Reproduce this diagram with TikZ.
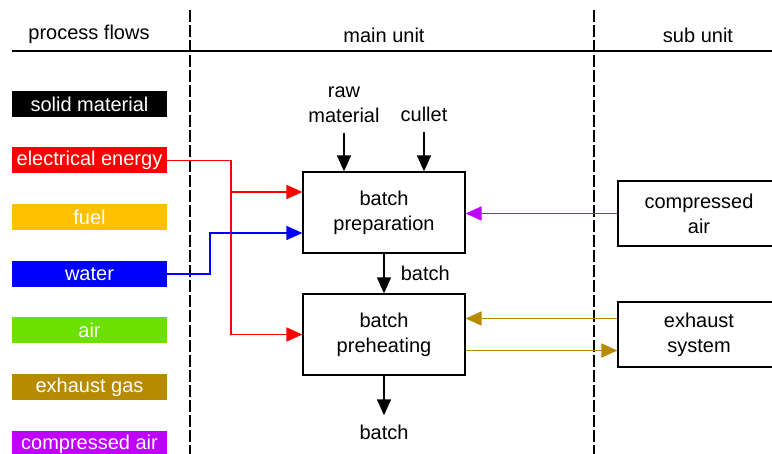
\documentclass[tikz,border=0pt]{standalone}
\usepackage{fontspec}
\setmainfont{Liberation Sans}
\usetikzlibrary{positioning,arrows.meta}
\definecolor{elecred}{RGB}{255,0,0}
\definecolor{fuelorange}{RGB}{255,192,0}
\definecolor{waterblue}{RGB}{0,0,255}
\definecolor{airgreen}{RGB}{108,224,0}
\definecolor{exhaustbrown}{RGB}{184,138,0}
\definecolor{cairpurple}{RGB}{192,0,255}

\begin{document}
\begin{tikzpicture}[
    x=0.5pt, y=-0.5pt,
    every node/.style={font=\fontsize{10}{12.5}\selectfont, align=center, inner sep=0pt},
    legendbox/.style={fill=#1, text=white, minimum width=77.5pt, minimum height=13pt},
    unitbox/.style={draw, line width=0.6pt, minimum width=81pt, minimum height=40.5pt},
    subbox/.style={draw, line width=0.6pt, minimum width=81pt, minimum height=32.5pt},
    >={Triangle[length=8pt,width=7pt]},
    flowline/.style={->, line width=0.8pt},
    divider/.style={line width=0.6pt, dash pattern=on 6pt off 1.5pt}
  ]
    \clip (0,0) rectangle (772,454);

    % header
    \node (hflows) at (89,34) {process flows};
    \node (hmain) at (384,35) {main unit};
    \node (hsub) at (698,35) {sub unit};
    \draw[line width=1pt] (12,51) -- (772,51);
    \draw[divider] (190,10) -- (190,454);
    \draw[divider] (594,10) -- (594,454);

    % legend
    \node[legendbox=black] (solid) at (89.5,104) {solid material};
    \node[legendbox=elecred] (elec) at (89.5,160.5) {electrical energy};
    \node[legendbox=fuelorange] (fuel) at (89.5,217) {fuel};
    \node[legendbox=waterblue] (water) at (89.5,274) {water};
    \node[legendbox=airgreen] (air) at (89.5,330) {air};
    \node[legendbox=exhaustbrown] (exhaust) at (89.5,387) {exhaust gas};
    \node[legendbox=cairpurple] (cair) at (89.5,444) {compressed air};

    % main unit
    \node[unitbox] (prep) at (384,212.5) {batch\\preparation};
    \node[unitbox] (preheat) at (384,334.5) {batch\\preheating};
    \node (raw) at (344,104.5) {raw\\material};
    \node[anchor=base] (cullet) at (424,121.5) {cullet};
    \node (out) at (384,432) {batch};

    % sub unit
    \node[subbox] (comp) at (699,213.5) {compressed\\air};
    \node[subbox] (exh) at (699,334.5) {exhaust\\system};

    \coordinate (ebus) at (231,0);
    \coordinate (wbus) at (210,0);
    \coordinate (epin) at ([yshift=10.25pt]prep.west);
    \coordinate (wpin) at ([yshift=-10.25pt]prep.west);

    \draw[flowline] ([yshift=-5pt]raw.south) -- (raw.south |- prep.north);
    \draw[flowline] ([yshift=-5pt]cullet.south) -- (cullet.south |- prep.north);
    \draw[flowline] (prep) -- (preheat) node[midway, right=8pt] {batch};
    \draw[flowline] (preheat) -- ([yshift=4.5pt]out.north);

    \draw[flowline, elecred] (elec.east) -| (ebus |- preheat.west) -- (preheat.west);
    \draw[flowline, elecred] (ebus |- epin) -- (epin);
    \draw[flowline, waterblue] (water.east) -| (wbus |- wpin) -- (wpin);
    \draw[flowline, cairpurple] (comp.west) -- (comp.west -| prep.east);
    \draw[flowline, exhaustbrown] ([yshift=8pt]exh.west) -- ([yshift=8pt]preheat.east);
    \draw[flowline, exhaustbrown] ([yshift=-8pt]preheat.east) -- ([yshift=-8pt]exh.west);
\end{tikzpicture}
\end{document}
